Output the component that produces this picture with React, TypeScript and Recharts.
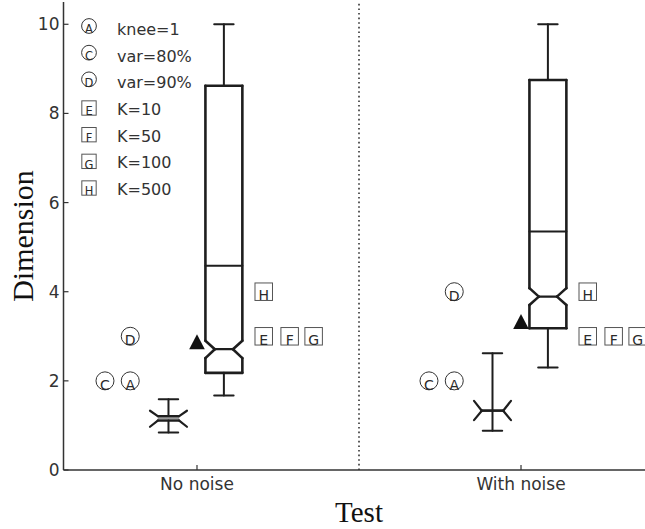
import React from "react";
import { ComposedChart, XAxis, YAxis, Scatter, ReferenceLine, ReferenceArea, Label } from "recharts";

const groups = ["No noise", "With noise"];
const groupPos = [1, 2];
const yTicks = [0, 2, 4, 6, 8, 10];

// main notched box per group
const boxWhiskerLow = [1.67, 2.3];
const boxQ1 = [2.18, 3.18];
const boxNotchLow = [2.51, 3.7];
const boxMedian = [2.71, 3.89];
const boxNotchHigh = [2.9, 4.08];
const boxMean = [4.58, 5.35];
const boxQ3 = [8.62, 8.75];
const boxWhiskerHigh = [10, 10];

// small folded box per group
const smallWhiskerLow = [0.84, 0.88];
const smallNotchLow = [0.97, 1.12];
const smallQ1 = [1.11, 1.33];
const smallQ3 = [1.21, 1.33];
const smallNotchHigh = [1.33, 1.55];
const smallWhiskerHigh = [1.59, 2.62];

// filled triangle per group
const triangleValues = [2.88, 3.33];

// methods
const methodKeys = ["A", "C", "D", "E", "F", "G", "H"];
const methodNames = ["knee=1", "var=80%", "var=90%", "K=10", "K=50", "K=100", "K=500"];
const methodValues: Record<string, number[]> = {
  A: [2, 2],
  C: [2, 2],
  D: [3, 4],
  E: [3, 3],
  F: [3, 3],
  G: [3, 3],
  H: [4, 4],
};

// layout (x offsets from group centre, in axis units)
const OFFSET: Record<string, number> = {
  C: -0.284, A: -0.206, D: -0.206, small: -0.088, tri: 0, box: 0.083,
  E: 0.206, H: 0.206, F: 0.286, G: 0.36,
};
const BOX_HALF = 0.057;
const NOTCH_HALF = 0.028;
const CAP_HALF = 0.03;
const SMALL_OUTER = 0.057;
const SMALL_INNER = 0.033;

const INK = "#1e1e1e";
const SANS = "DejaVu Sans";
const SERIF = "Liberation Serif";

const isCircle = (k: string) => k === "A" || k === "C" || k === "D";

function Glyph({ cx, cy, letter, scale = 1 }: { cx: number; cy: number; letter: string; scale?: number }) {
  if (isCircle(letter)) {
    const r = 9 * scale;
    return (
      <g>
        <circle cx={cx} cy={cy} r={r} fill="#fff" stroke="#333" strokeWidth={1} />
        <text x={cx} y={cy + r} textAnchor="middle" fontFamily={SANS} fontSize={14 * scale} fill="#2a2a2a">
          {letter}
        </text>
      </g>
    );
  }
  const h = 8.75 * scale;
  return (
    <g>
      <rect x={cx - h} y={cy - h} width={2 * h} height={2 * h} fill="#fff" stroke="#555" strokeWidth={1} />
      <text x={cx} y={cy + h} textAnchor="middle" fontFamily={SANS} fontSize={14 * scale} fill="#2a2a2a">
        {letter}
      </text>
    </g>
  );
}

const Triangle = (props: any) => {
  const { cx, cy } = props;
  return <polygon points={`${cx},${cy - 7.5} ${cx - 7.8},${cy + 7.5} ${cx + 7.8},${cy + 7.5}`} fill="#111" />;
};

type Seg = [number, number, number, number, number];

function mainBoxSegments(i: number): Seg[] {
  const x0 = groupPos[i] + OFFSET.box;
  const w = BOX_HALF, n = NOTCH_HALF, c = CAP_HALF;
  const q1 = boxQ1[i], q3 = boxQ3[i], nl = boxNotchLow[i], nh = boxNotchHigh[i], md = boxMedian[i];
  const pts: [number, number][] = [
    [x0 - w, q3], [x0 + w, q3], [x0 + w, nh], [x0 + n, md], [x0 + w, nl], [x0 + w, q1],
    [x0 - w, q1], [x0 - w, nl], [x0 - n, md], [x0 - w, nh], [x0 - w, q3],
  ];
  const segs: Seg[] = [];
  for (let k = 0; k < pts.length - 1; k++) {
    segs.push([pts[k][0], pts[k][1], pts[k + 1][0], pts[k + 1][1], 2.6]);
  }
  segs.push([x0 - n, md, x0 + n, md, 2.2]);
  segs.push([x0 - w, boxMean[i], x0 + w, boxMean[i], 2]);
  segs.push([x0, q3, x0, boxWhiskerHigh[i], 2]);
  segs.push([x0 - c, boxWhiskerHigh[i], x0 + c, boxWhiskerHigh[i], 2]);
  segs.push([x0, q1, x0, boxWhiskerLow[i], 2]);
  segs.push([x0 - c, boxWhiskerLow[i], x0 + c, boxWhiskerLow[i], 2]);
  return segs;
}

function smallBoxSegments(i: number): Seg[] {
  const x0 = groupPos[i] + OFFSET.small;
  const W = SMALL_OUTER, n = SMALL_INNER, c = CAP_HALF;
  const q1 = smallQ1[i], q3 = smallQ3[i], nl = smallNotchLow[i], nh = smallNotchHigh[i];
  return [
    [x0, q3, x0, smallWhiskerHigh[i], 2],
    [x0 - c, smallWhiskerHigh[i], x0 + c, smallWhiskerHigh[i], 2],
    [x0, q1, x0, smallWhiskerLow[i], 2],
    [x0 - c, smallWhiskerLow[i], x0 + c, smallWhiskerLow[i], 2],
    [x0 - W, nh, x0 - n, q3, 2.2],
    [x0 + n, q3, x0 + W, nh, 2.2],
    [x0 - W, nl, x0 - n, q1, 2.2],
    [x0 + n, q1, x0 + W, nl, 2.2],
    [x0 - n, q3, x0 + n, q3, 2.2],
    [x0 - n, q1, x0 + n, q1, 2.2],
  ];
}

const YTitle = (props: any) => {
  const vb = props.viewBox || { x: 0, y: 2, width: 63.5, height: 468 };
  const cx = vb.x + 33;
  const cy = vb.y + vb.height / 2;
  return (
    <text x={cx} y={cy} transform={`rotate(-90 ${cx} ${cy})`} textAnchor="middle" fontFamily={SERIF} fontSize={30} fill="#111">
      Dimension
    </text>
  );
};

function LegendBox() {
  return (
    <svg width={200} height={210} style={{ position: "absolute", left: 0, top: 0, pointerEvents: "none" }}>
      {methodKeys.map((k, i) => {
        const base = 35 + i * 26.67;
        const cy = isCircle(k) ? base - 9 : base - 7;
        return (
          <g key={k}>
            <Glyph cx={89} cy={cy} letter={k} scale={0.82} />
            <text x={117} y={base} fontFamily={SANS} fontSize={16} fill="#333">
              {methodNames[i]}
            </text>
          </g>
        );
      })}
    </svg>
  );
}

export default function App() {
  const segs: Seg[] = [];
  groupPos.forEach((_, i) => {
    segs.push(...mainBoxSegments(i));
    segs.push(...smallBoxSegments(i));
  });

  const tickStyle = { fill: "#333", fontSize: 17, fontFamily: SANS };

  return (
    <div style={{ position: "absolute", left: 0, top: 0, width: 645, height: 529, overflow: "hidden", background: "#fff" }}>
      <ComposedChart width={660} height={529} margin={{ top: 2, right: 5.5, bottom: 0, left: 0 }}>
        <XAxis
          type="number"
          dataKey="x"
          domain={[0.588, 2.412]}
          ticks={groupPos}
          interval={0}
          allowDataOverflow
          tickFormatter={(v: number) => groups[groupPos.indexOf(v)] ?? ""}
          height={59}
          tickSize={-5}
          tickMargin={13}
          tick={tickStyle}
          axisLine={{ stroke: "#333", strokeWidth: 1.5 }}
          tickLine={{ stroke: "#333", strokeWidth: 1.2 }}
        >
          <Label value="Test" position="insideBottom" offset={7} style={{ fontFamily: SERIF, fontSize: 29, fill: "#111" }} />
        </XAxis>
        <XAxis
          xAxisId="top"
          orientation="top"
          type="number"
          domain={[0.588, 2.412]}
          ticks={groupPos}
          allowDataOverflow
          height={0}
          tick={false}
          tickSize={-5}
          axisLine={{ stroke: "#333", strokeWidth: 1.5 }}
          tickLine={{ stroke: "#333", strokeWidth: 1.2 }}
        />
        <YAxis
          type="number"
          domain={[0, 10.5]}
          ticks={yTicks}
          interval={0}
          allowDataOverflow
          width={63.5}
          tickSize={-5}
          tickMargin={9}
          tick={tickStyle}
          axisLine={{ stroke: "#333", strokeWidth: 1.5 }}
          tickLine={{ stroke: "#333", strokeWidth: 1.2 }}
        >
          <Label content={YTitle} />
        </YAxis>

        <ReferenceLine x={1.5} stroke="#333" strokeWidth={1.6} strokeDasharray="1.6 3" />

        {groupPos.map((g, i) =>
          smallQ3[i] > smallQ1[i] ? (
            <ReferenceArea
              key={`fill-${i}`}
              x1={g + OFFSET.small - SMALL_INNER}
              x2={g + OFFSET.small + SMALL_INNER}
              y1={smallQ1[i]}
              y2={smallQ3[i]}
              fill="#9a9a9a"
              fillOpacity={1}
              stroke="none"
            />
          ) : null
        )}

        {segs.map((s, k) => (
          <ReferenceLine
            key={`seg-${k}`}
            segment={[{ x: s[0], y: s[1] }, { x: s[2], y: s[3] }]}
            stroke={INK}
            strokeWidth={s[4]}
            strokeLinecap="round"
          />
        ))}

        <Scatter
          name="triangle"
          data={groupPos.map((g, i) => ({ x: g + OFFSET.tri, y: triangleValues[i] }))}
          dataKey="y"
          shape={Triangle}
          isAnimationActive={false}
        />

        {methodKeys.map((k) => (
          <Scatter
            key={k}
            name={k}
            data={groupPos.map((g, i) => ({ x: g + OFFSET[k], y: methodValues[k][i] }))}
            dataKey="y"
            shape={(p: any) => <Glyph cx={p.cx} cy={p.cy} letter={k} />}
            isAnimationActive={false}
          />
        ))}
      </ComposedChart>
      <LegendBox />
    </div>
  );
}
